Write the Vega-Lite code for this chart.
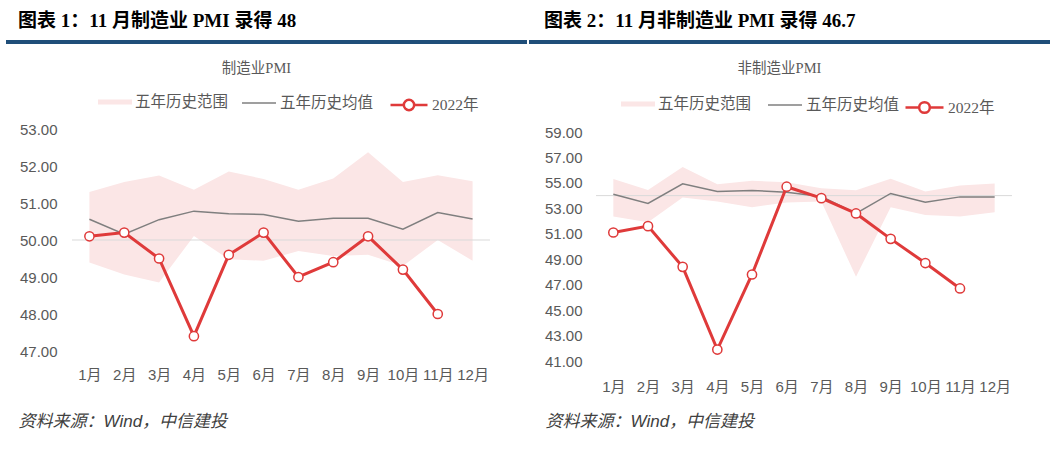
{
  "$schema": "https://vega.github.io/schema/vega-lite/v6.json",
  "padding": {"left": 4, "top": 10, "right": 0, "bottom": 0},
  "config": {
    "view": {"stroke": null},
    "font": "Liberation Sans, Noto Sans CJK SC",
    "title": {
      "anchor": "start",
      "frame": "group",
      "font": "Liberation Serif, Noto Sans CJK SC",
      "fontSize": 19,
      "fontWeight": "bold",
      "color": "#000000",
      "offset": 11
    },
    "axis": {
      "domain": false,
      "ticks": false,
      "grid": false,
      "labelOverlap": false,
      "labelColor": "#595959",
      "labelFontSize": 15
    },
    "legend": {
      "title": null,
      "orient": "none",
      "direction": "horizontal",
      "symbolSize": 1156,
      "labelFontSize": 15.5,
      "labelFont": "Liberation Serif, Noto Sans CJK SC",
      "labelColor": "#595959",
      "labelOffset": 3,
      "padding": 0
    }
  },
  "datasets": {
    "mfg": [
      {"month": "1月", "lo": 49.39, "hi": 51.30, "avg": 50.56, "v2022": 50.1},
      {"month": "2月", "lo": 49.07, "hi": 51.57, "avg": 50.16, "v2022": 50.2},
      {"month": "3月", "lo": 48.85, "hi": 51.74, "avg": 50.55, "v2022": 49.5},
      {"month": "4月", "lo": 50.11, "hi": 51.36, "avg": 50.78, "v2022": 47.4},
      {"month": "5月", "lo": 49.48, "hi": 51.85, "avg": 50.71, "v2022": 49.6},
      {"month": "6月", "lo": 49.44, "hi": 51.65, "avg": 50.69, "v2022": 50.2},
      {"month": "7月", "lo": 49.70, "hi": 51.36, "avg": 50.51, "v2022": 49.0},
      {"month": "8月", "lo": 49.57, "hi": 51.66, "avg": 50.59, "v2022": 49.4},
      {"month": "9月", "lo": 49.60, "hi": 52.37, "avg": 50.59, "v2022": 50.1},
      {"month": "10月", "lo": 49.30, "hi": 51.57, "avg": 50.29, "v2022": 49.2},
      {"month": "11月", "lo": 50.00, "hi": 51.75, "avg": 50.74, "v2022": 48.0},
      {"month": "12月", "lo": 49.44, "hi": 51.59, "avg": 50.57, "v2022": null}
    ],
    "nonmfg": [
      {"month": "1月", "lo": 52.35, "hi": 55.30, "avg": 54.11, "v2022": 51.1},
      {"month": "2月", "lo": 51.90, "hi": 54.45, "avg": 53.38, "v2022": 51.6},
      {"month": "3月", "lo": 53.85, "hi": 56.24, "avg": 54.93, "v2022": 48.4},
      {"month": "4月", "lo": 53.53, "hi": 54.90, "avg": 54.32, "v2022": 41.9},
      {"month": "5月", "lo": 53.09, "hi": 55.16, "avg": 54.40, "v2022": 47.8},
      {"month": "6月", "lo": 53.46, "hi": 55.06, "avg": 54.27, "v2022": 54.7},
      {"month": "7月", "lo": 53.53, "hi": 54.58, "avg": 53.93, "v2022": 53.8},
      {"month": "8月", "lo": 47.62, "hi": 54.43, "avg": 52.60, "v2022": 52.6},
      {"month": "9月", "lo": 53.09, "hi": 55.32, "avg": 54.17, "v2022": 50.6},
      {"month": "10月", "lo": 52.48, "hi": 54.32, "avg": 53.48, "v2022": 48.7},
      {"month": "11月", "lo": 52.35, "hi": 54.80, "avg": 53.90, "v2022": 46.7},
      {"month": "12月", "lo": 52.69, "hi": 54.95, "avg": 53.90, "v2022": null}
    ]
  },
  "spacing": -7,
  "resolve": {
    "scale": {"color": "independent", "fill": "independent", "stroke": "independent", "x": "independent", "y": "independent"},
    "legend": {"color": "independent", "fill": "independent", "stroke": "independent"}
  },
  "hconcat": [
    {
      "width": 521,
      "height": 309,
      "view": {"stroke": "#1f4e79", "strokeWidth": 4, "strokeDash": [521, 5000]},
      "title": {"text": "图表 1：11 月制造业 PMI 录得 48", "dx": 12},
      "data": {"name": "mfg"},
      "encoding": {
        "x": {
          "field": "month",
          "type": "ordinal",
          "scale": {"type": "point", "padding": 0.5, "range": [66, 484], "domain": ["1月", "2月", "3月", "4月", "5月", "6月", "7月", "8月", "9月", "10月", "11月", "12月"]},
          "axis": {
            "title": "资料来源：Wind，中信建投",
            "titleAlign": "left",
            "titleX": 12,
            "titleY": 70,
            "titleBaseline": "middle",
            "titleFont": "Liberation Sans, Noto Sans CJK SC",
            "titleFontStyle": "italic",
            "titleFontWeight": "normal",
            "titleFontSize": 17,
            "titleColor": "#404040",
            "labelAngle": 0,
            "labelPadding": 16
          }
        }
      },
      "layer": [
        {
          "mark": {"type": "area", "opacity": 1},
          "encoding": {
            "y": {
              "field": "lo",
              "type": "quantitative",
              "scale": {"domain": [47, 53], "range": [309, 87], "nice": false, "zero": false},
              "axis": {
                "offset": -66,
                "values": [47, 48, 49, 50, 51, 52, 53],
                "tickCount": 20,
                "format": ".2f",
                "labelOverlap": false,
                "labelPadding": 15,
                "title": "制造业PMI",
                "titleAngle": 0,
                "titleAlign": "center",
                "titleBaseline": "middle",
                "titleX": 184,
                "titleY": 26,
                "titleFont": "Liberation Serif, Noto Sans CJK SC",
                "titleFontSize": 14.5,
                "titleFontWeight": "normal",
                "titleColor": "#595959"
              }
            },
            "y2": {"field": "hi"},
            "fill": {
              "datum": "五年历史范围",
              "type": "nominal",
              "scale": {"domain": ["五年历史范围"], "range": ["#fbe6e6"]},
              "legend": {"legendX": 92, "legendY": 43, "symbolType": "M-1,-0.15H1V0.15H-1Z", "symbolStrokeWidth": 0}
            }
          }
        },
        {
          "data": {"values": [{"ref": 50}]},
          "mark": {"type": "rule", "color": "#d9d9d9", "strokeWidth": 1, "xOffset": -17.4, "x2Offset": 17.4},
          "encoding": {
            "x": {"datum": "1月"},
            "x2": {"datum": "12月"},
            "y": {"field": "ref", "type": "quantitative"}
          }
        },
        {
          "mark": {"type": "line", "strokeWidth": 1.5},
          "encoding": {
            "y": {"field": "avg", "type": "quantitative"},
            "stroke": {
              "datum": "五年历史均值",
              "type": "nominal",
              "scale": {"domain": ["五年历史均值"], "range": ["#7f7f7f"]},
              "legend": {"legendX": 235, "legendY": 43, "symbolType": "stroke", "symbolStrokeWidth": 1.5}
            }
          }
        },
        {
          "transform": [{"filter": "isValid(datum.v2022)"}],
          "mark": {"type": "line", "strokeWidth": 3},
          "encoding": {
            "y": {"field": "v2022", "type": "quantitative"},
            "color": {
              "datum": "2022年",
              "type": "nominal",
              "scale": {"domain": ["2022年"], "range": ["#df3a3a"]},
              "legend": {
                "legendX": 383,
                "legendY": 43,
                "symbolType": "M-1,0H-0.28M0.28,0H1M-0.28,0A0.28,0.28,0,1,1,0.28,0A0.28,0.28,0,1,1,-0.28,0",
                "symbolSize": 1369,
                "symbolStrokeWidth": 2.5,
                "symbolFillColor": "#ffffff"
              }
            }
          }
        },
        {
          "transform": [{"filter": "isValid(datum.v2022)"}],
          "mark": {"type": "point", "filled": true, "fill": "#ffffff", "stroke": "#df3a3a", "strokeWidth": 1.5, "size": 85, "opacity": 1},
          "encoding": {
            "y": {"field": "v2022", "type": "quantitative"}
          }
        }
      ]
    },
    {
      "width": 521,
      "height": 319,
      "view": {"stroke": "#1f4e79", "strokeWidth": 4, "strokeDash": [521, 5000]},
      "title": {"text": "图表 2：11 月非制造业 PMI 录得 46.7", "dx": 15},
      "data": {"name": "nonmfg"},
      "encoding": {
        "x": {
          "field": "month",
          "type": "ordinal",
          "scale": {"type": "point", "padding": 0.5, "range": [67, 483], "domain": ["1月", "2月", "3月", "4月", "5月", "6月", "7月", "8月", "9月", "10月", "11月", "12月"]},
          "axis": {
            "title": "资料来源：Wind，中信建投",
            "titleAlign": "left",
            "titleX": 16,
            "titleY": 60,
            "titleBaseline": "middle",
            "titleFont": "Liberation Sans, Noto Sans CJK SC",
            "titleFontStyle": "italic",
            "titleFontWeight": "normal",
            "titleFontSize": 17,
            "titleColor": "#404040",
            "labelAngle": 0,
            "labelPadding": 18
          }
        }
      },
      "layer": [
        {
          "mark": {"type": "area", "opacity": 1},
          "encoding": {
            "y": {
              "field": "lo",
              "type": "quantitative",
              "scale": {"domain": [41, 59], "range": [319, 90], "nice": false, "zero": false},
              "axis": {
                "offset": -67,
                "values": [41, 43, 45, 47, 49, 51, 53, 55, 57, 59],
                "tickCount": 20,
                "format": ".2f",
                "labelOverlap": false,
                "labelPadding": 14,
                "title": "非制造业PMI",
                "titleAngle": 0,
                "titleAlign": "center",
                "titleBaseline": "middle",
                "titleX": 183,
                "titleY": 26,
                "titleFont": "Liberation Serif, Noto Sans CJK SC",
                "titleFontSize": 14.5,
                "titleFontWeight": "normal",
                "titleColor": "#595959"
              }
            },
            "y2": {"field": "hi"},
            "fill": {
              "datum": "五年历史范围",
              "type": "nominal",
              "scale": {"domain": ["五年历史范围"], "range": ["#fbe6e6"]},
              "legend": {"legendX": 92, "legendY": 45, "symbolType": "M-1,-0.15H1V0.15H-1Z", "symbolStrokeWidth": 0}
            }
          }
        },
        {
          "data": {"values": [{"ref": 54}]},
          "mark": {"type": "rule", "color": "#d9d9d9", "strokeWidth": 1, "xOffset": -17.3, "x2Offset": 17.3},
          "encoding": {
            "x": {"datum": "1月"},
            "x2": {"datum": "12月"},
            "y": {"field": "ref", "type": "quantitative"}
          }
        },
        {
          "mark": {"type": "line", "strokeWidth": 1.5},
          "encoding": {
            "y": {"field": "avg", "type": "quantitative"},
            "stroke": {
              "datum": "五年历史均值",
              "type": "nominal",
              "scale": {"domain": ["五年历史均值"], "range": ["#7f7f7f"]},
              "legend": {"legendX": 238, "legendY": 45, "symbolType": "stroke", "symbolStrokeWidth": 1.5}
            }
          }
        },
        {
          "transform": [{"filter": "isValid(datum.v2022)"}],
          "mark": {"type": "line", "strokeWidth": 3},
          "encoding": {
            "y": {"field": "v2022", "type": "quantitative"},
            "color": {
              "datum": "2022年",
              "type": "nominal",
              "scale": {"domain": ["2022年"], "range": ["#df3a3a"]},
              "legend": {
                "legendX": 375,
                "legendY": 45,
                "symbolType": "M-1,0H-0.28M0.28,0H1M-0.28,0A0.28,0.28,0,1,1,0.28,0A0.28,0.28,0,1,1,-0.28,0",
                "symbolSize": 1444,
                "symbolStrokeWidth": 2.5,
                "symbolFillColor": "#ffffff"
              }
            }
          }
        },
        {
          "transform": [{"filter": "isValid(datum.v2022)"}],
          "mark": {"type": "point", "filled": true, "fill": "#ffffff", "stroke": "#df3a3a", "strokeWidth": 1.5, "size": 85, "opacity": 1},
          "encoding": {
            "y": {"field": "v2022", "type": "quantitative"}
          }
        }
      ]
    }
  ]
}
